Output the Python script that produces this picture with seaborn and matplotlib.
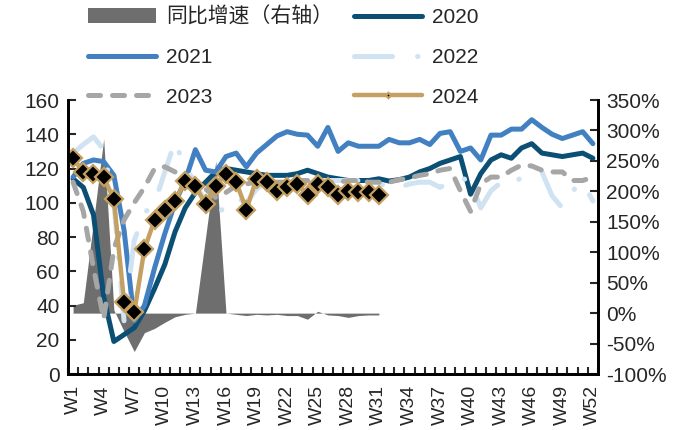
import numpy as np
import matplotlib
matplotlib.use("Agg")
import matplotlib.pyplot as plt
import seaborn as sns
from matplotlib.ticker import FuncFormatter, FixedLocator

weeks = list(range(1, 53))
week_labels = [f"W{w}" for w in weeks]

# weekly values (left axis)
y2020 = [114, 109, 93, 45, 19, 23, 27, 37, 50, 64, 83, 97, 106, 112, 118, 120, 119, 118, 117, 116,
         116, 116, 117, 119, 117, 115, 114, 113, 113, 113, 114, 112.7, 113.5, 115, 118, 120, 123, 125,
         127, 105, 117, 125, 128, 126, 132, 134.5, 129, 128, 127, 128, 129, 126]
y2021 = [115, 123, 125, 124, 116, 84, 31, 40, 62, 82, 100, 113, 131, 119, 118, 127, 129, 121, 129, 134,
         139, 141.5, 140, 139.5, 133, 144, 130, 135, 133, 133, 133, 137, 135, 135, 137, 134, 140.5, 141.5,
         130, 132, 125, 139.5, 139.5, 143, 143, 148.5, 144, 140, 137.5, 139.5, 141.5, 134.5]
y2022 = [129, 134, 138.5, 131, 100, 31, 78, 94, 100, 118, 136, 120, 112, 100, 90, 100, 103, 100, 108, 112,
         113, 113, 113, 113, 113, 113, 113, 113, 113, 113, 112, 108, 109, 111, 112, 112, 109, 112, 115,
         112, 97, 107, 112, 110, 115, 117, 118, 104, 97, 107, 112, 101]
y2023 = [112, 95, 62, 32, 73, 90, 100, 109, 120, 121, 118, 115, 112, 108, 103, 106, 110, 111, 112, 112,
         112, 112, 113, 113, 112, 112, 112, 113, 113, 112, 112, 112, 113.5, 114.5, 116, 117, 119, 120,
         107, 95, 111, 115, 115, 119, 122, 121.5, 119, 118, 118, 113, 113, 115]
y2024 = [126, 118, 117, 115, 102, 42, 36, 73, 90, 96, 101, 113, 110, 99, 110, 117, 112, 96, 114, 112,
         107, 109, 111, 104.5, 111, 109, 104.5, 107, 106.5, 106.5, 104.5]

# year-on-year growth of 2024, % (right axis)
yoy = [13, 17, 150, 286, 5, -30, -63, -32, -25, -15, -6, -2, 0, 125, 250, 0, -2, -4, -2, -3,
       -2, -4, -4, -10, 3, -3, -4, -7, -4, -3, -3]

sns.set_style("ticks")
plt.rcParams["font.family"] = ["Liberation Sans", "Noto Sans CJK SC"]

fig = plt.figure(figsize=(6.89, 4.30), dpi=100)
ax = fig.add_axes([0.0987, 0.1302, 0.7692, 0.6372])
ax2 = ax.twinx()

# growth area on the right axis, drawn behind the lines
ax2.fill_between(weeks[:len(yoy)], yoy, 0, color="#6e6e6e", lw=0, label="同比增速（右轴）")
ax.set_zorder(ax2.get_zorder() + 1)
ax.patch.set_visible(False)

lw = 3.6
sns.lineplot(x=weeks, y=y2020, ax=ax, color="#0b4f75", lw=lw, label="2020",
             solid_capstyle="round")
sns.lineplot(x=weeks, y=y2021, ax=ax, color="#4280c2", lw=lw, label="2021",
             solid_capstyle="round")
sns.lineplot(x=weeks, y=y2022, ax=ax, color="#d0e3f3", lw=lw, label="2022",
             linestyle=(0, (7.6, 5, 0.1, 5)), dash_capstyle="round")
sns.lineplot(x=weeks, y=y2023, ax=ax, color="#a6a6a6", lw=lw, label="2023",
             linestyle=(0, (2.4, 2.4)), dash_capstyle="round")
sns.lineplot(x=weeks[:len(y2024)], y=y2024, ax=ax, color="#c4a062", lw=3.2, label="2024",
             marker="D", markersize=9, markerfacecolor="black", markeredgecolor="#c4a062",
             markeredgewidth=1.6, solid_capstyle="round")

ax.set_xlim(0.5, 52.5)
ax.set_ylim(0, 160)
ax.set_yticks(range(0, 161, 20))
ax2.set_ylim(-100, 350)
ax2.set_yticks(range(-100, 351, 50))
ax2.yaxis.set_major_formatter(FuncFormatter(lambda v, p: f"{v:.0f}%"))

ax.set_xticks(weeks[::3])
ax.set_xticklabels(week_labels[::3], rotation=90)
ax.xaxis.set_minor_locator(FixedLocator(np.arange(0.5, 53, 1)))
ax.tick_params(axis="x", which="major", length=0, pad=8, labelsize=14)
ax.tick_params(axis="x", which="minor", direction="in", length=5, width=1.5)
ax.tick_params(axis="y", direction="in", length=6, width=1.5, labelsize=15, pad=6)
ax2.tick_params(axis="y", direction="in", length=6, width=1.5, labelsize=15, pad=6)
ax.set_xlabel("")
ax.set_ylabel("")

for a in (ax, ax2):
    a.spines["top"].set_visible(False)
    for s in ("left", "right", "bottom"):
        a.spines[s].set_linewidth(2)
        a.spines[s].set_color("black")

h1, l1 = ax.get_legend_handles_labels()
h2, l2 = ax2.get_legend_handles_labels()
hd = dict(zip(l1 + l2, h1 + h2))
order = ["同比增速（右轴）", "2021", "2023", "2020", "2022", "2024"]
if ax.get_legend():
    ax.get_legend().remove()
fig.legend([hd[k] for k in order], order, loc="upper left", ncol=2,
           bbox_to_anchor=(0.106, 1.018), frameon=False, fontsize=15,
           handlelength=3.3, handletextpad=0.45, columnspacing=1.0,
           labelspacing=1.0, markerscale=0.3, borderpad=0.2)

fig.savefig("out.png", dpi=100)
